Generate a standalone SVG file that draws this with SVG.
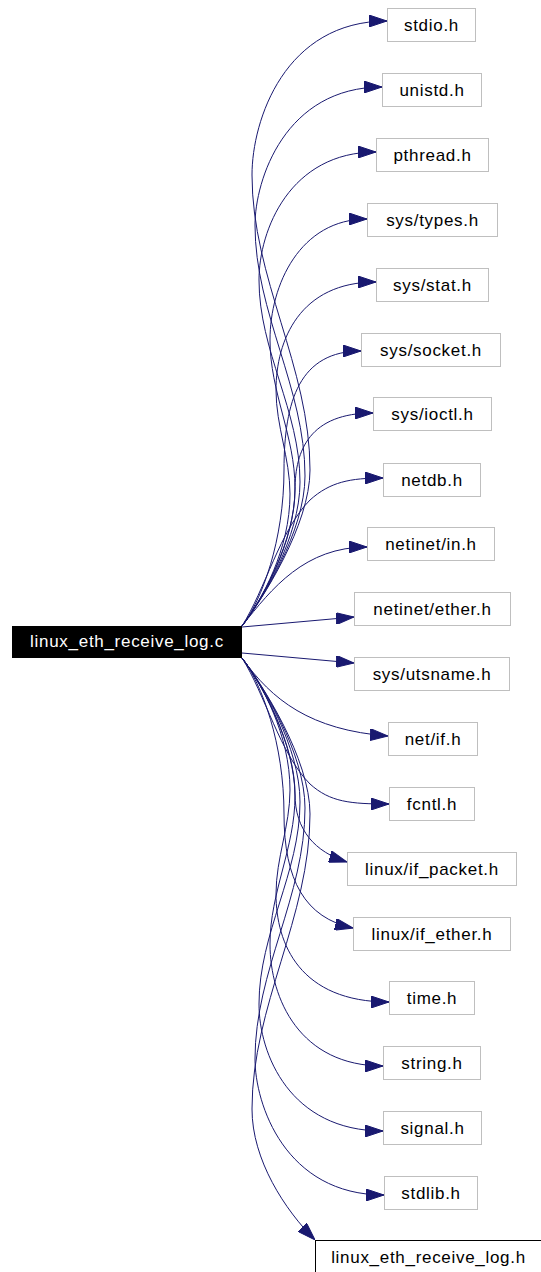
<svg xmlns="http://www.w3.org/2000/svg" width="541" height="1272" viewBox="0 0 541 1272">
  <style>
    .node rect { fill: #ffffff; stroke: #bfbfbf; stroke-width: 1; }
    .node text { font-family: "Liberation Sans", Arial, sans-serif; font-size: 17px; letter-spacing: 0.7px; text-anchor: middle; fill: #000000; }
    #src rect { fill: #000000; stroke: #000000; }
    #src text { fill: #ffffff; }
    #hdr rect { stroke: #000000; }
    .edges path { fill: none; stroke: #191970; stroke-width: 1; marker-end: url(#arrow); }
  </style>
  <defs>
    <marker id="arrow" viewBox="0 0 18 12" markerUnits="userSpaceOnUse" markerWidth="18" markerHeight="12" refX="18" refY="6" orient="auto">
      <path d="M0,0 L18,6 L0,12 z" fill="#191970" stroke="#191970" stroke-width="1"/>
    </marker>
  </defs>
  <rect width="541" height="1272" fill="#ffffff"/>

  <!-- include edges -->
  <g class="edges" id="edges">
    <path d="M242,626 C262,600 310,525 310,470 C310,367 252,278 252,175 C252,120 285,21 387,21"/>
    <path d="M242,626 C262,600 305,531 305,476 C305,388 255,313 255,225 C255,180 285,87 382,87"/>
    <path d="M242,626 C262,600 300,537 300,482 C300,411 259,351 259,280 C259,230 290,152 376,152"/>
    <path d="M242,626 C262,600 295,543 295,488 C295,436 270,392 270,340 C270,285 300,219 367,219"/>
    <path d="M242,626 C262,600 290,549 290,494 C290,458 276,426 276,390 C276,340 300,282 376,282"/>
    <path d="M242,626 C262,600 284,540 284,470 C284,400 300,351 361,351"/>
    <path d="M242,626 C262,600 295,540 295,490 C295,450 310,413 373,413"/>
    <path d="M242,626 C265,590 280,530 310,500 C330,482 350,478 383,478"/>
    <path d="M242,626 C272,588 305,547 367,547"/>
    <path d="M242,627 L354,617"/>
    <path d="M242,653 L354,663"/>
    <path d="M242,658 C272,700 310,730 388,736"/>
    <path d="M242,658 C265,694 280,754 310,784 C330,802 350,804 389,804"/>
    <path d="M242,658 C262,684 295,744 295,794 C295,830 315,852 347,862"/>
    <path d="M242,658 C262,684 284,744 284,814 C284,880 305,918 353,928"/>
    <path d="M242,658 C262,684 290,735 290,790 C290,826 276,858 276,894 C276,944 300,1002 389,1002"/>
    <path d="M242,658 C262,684 295,744 295,796 C295,848 270,892 270,944 C270,999 300,1066 383,1066"/>
    <path d="M242,658 C262,684 300,747 300,802 C300,873 259,933 259,1004 C259,1054 290,1131 383,1131"/>
    <path d="M242,658 C262,684 305,753 305,808 C305,896 255,971 255,1059 C255,1104 285,1195 384,1195"/>
    <path d="M242,658 C262,684 310,759 310,814 C310,917 252,1006 252,1109 C252,1160 285,1210 315,1240"/>
  </g>

  <!-- source file -->
  <g class="node" id="src">
    <rect x="12.5" y="626.5" width="229" height="31"/>
    <text x="127" y="647">linux_eth_receive_log.c</text>
  </g>

  <!-- included headers -->
  <g class="node" id="n_stdio"><rect x="387.5" y="8.5" width="88" height="33"/><text x="431.5" y="31">stdio.h</text></g>
  <g class="node" id="n_unistd"><rect x="382.5" y="73.5" width="99" height="33"/><text x="432" y="96">unistd.h</text></g>
  <g class="node" id="n_pthread"><rect x="376.5" y="138.5" width="112" height="33"/><text x="432.5" y="161">pthread.h</text></g>
  <g class="node" id="n_systypes"><rect x="367.5" y="203.5" width="130" height="33"/><text x="432.5" y="226">sys/types.h</text></g>
  <g class="node" id="n_sysstat"><rect x="376.5" y="268.5" width="112" height="33"/><text x="432.5" y="291">sys/stat.h</text></g>
  <g class="node" id="n_syssocket"><rect x="361.5" y="333.5" width="139" height="33"/><text x="431" y="356">sys/socket.h</text></g>
  <g class="node" id="n_sysioctl"><rect x="373.5" y="397.5" width="118" height="33"/><text x="432.5" y="420">sys/ioctl.h</text></g>
  <g class="node" id="n_netdb"><rect x="383.5" y="463.5" width="97" height="33"/><text x="432" y="486">netdb.h</text></g>
  <g class="node" id="n_netinetin"><rect x="367.5" y="527.5" width="127" height="33"/><text x="431" y="550">netinet/in.h</text></g>
  <g class="node" id="n_netinetether"><rect x="354.5" y="592.5" width="156" height="33"/><text x="432.5" y="615">netinet/ether.h</text></g>
  <g class="node" id="n_sysutsname"><rect x="354.5" y="657.5" width="155" height="33"/><text x="432" y="680">sys/utsname.h</text></g>
  <g class="node" id="n_netif"><rect x="388.5" y="722.5" width="89" height="33"/><text x="433" y="745">net/if.h</text></g>
  <g class="node" id="n_fcntl"><rect x="389.5" y="787.5" width="85" height="33"/><text x="432" y="810">fcntl.h</text></g>
  <g class="node" id="n_ifpacket"><rect x="347.5" y="852.5" width="169" height="33"/><text x="432" y="875">linux/if_packet.h</text></g>
  <g class="node" id="n_ifether"><rect x="353.5" y="917.5" width="157" height="33"/><text x="432" y="940">linux/if_ether.h</text></g>
  <g class="node" id="n_time"><rect x="389.5" y="981.5" width="85" height="33"/><text x="432" y="1004">time.h</text></g>
  <g class="node" id="n_string"><rect x="383.5" y="1046.5" width="97" height="33"/><text x="432" y="1069">string.h</text></g>
  <g class="node" id="n_signal"><rect x="383.5" y="1111.5" width="98" height="33"/><text x="432.5" y="1134">signal.h</text></g>
  <g class="node" id="n_stdlib"><rect x="384.5" y="1176.5" width="93" height="33"/><text x="431" y="1199">stdlib.h</text></g>
  <g class="node" id="hdr"><rect x="315.5" y="1240.5" width="240" height="40"/><text x="428.5" y="1263">linux_eth_receive_log.h</text></g>
</svg>
